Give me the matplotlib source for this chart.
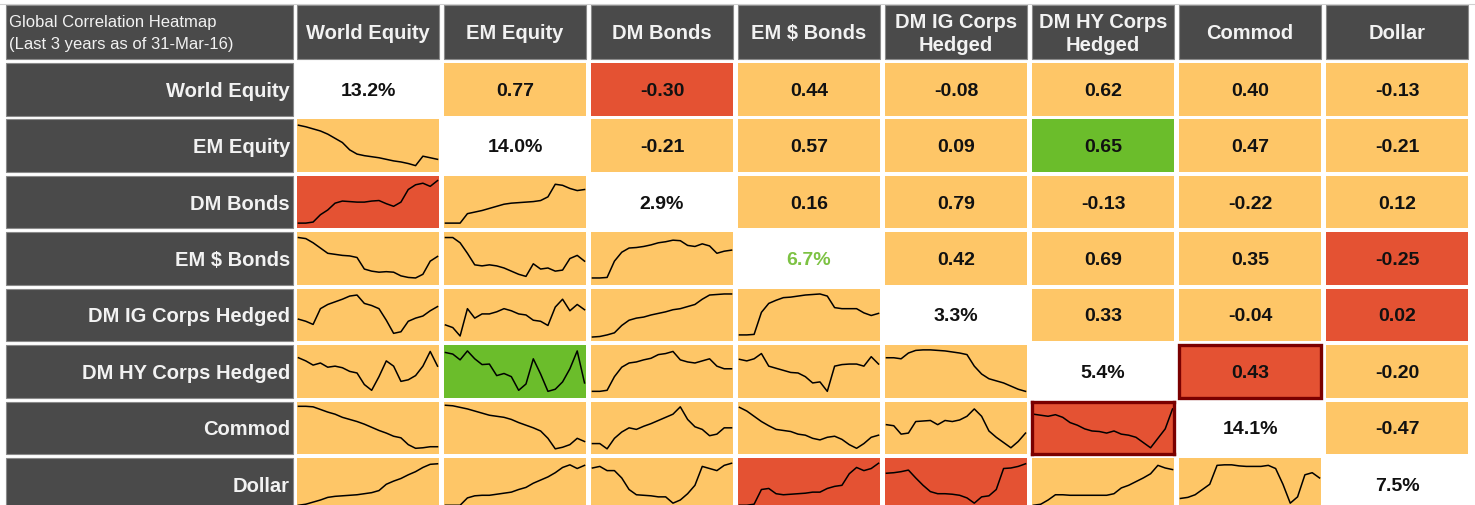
import matplotlib
matplotlib.use('Agg')
import matplotlib.pyplot as plt
from matplotlib.patches import Rectangle

plt.rcParams['font.family'] = ['Liberation Sans Narrow', 'Liberation Sans', 'DejaVu Sans']

title = 'Global Correlation Heatmap\n(Last 3 years as of 31-Mar-16)'
assets = ['World Equity', 'EM Equity', 'DM Bonds', 'EM $ Bonds',
          'DM IG Corps Hedged', 'DM HY Corps Hedged', 'Commod', 'Dollar']
headers = ['World Equity', 'EM Equity', 'DM Bonds', 'EM $ Bonds',
           'DM IG Corps\nHedged', 'DM HY Corps\nHedged', 'Commod', 'Dollar']
vols = ['13.2%', '14.0%', '2.9%', '6.7%', '3.3%', '5.4%', '14.1%', '7.5%']

# correlations above the diagonal, one list per row
corr_upper = [
    [0.77, -0.30, 0.44, -0.08, 0.62, 0.40, -0.13],
    [-0.21, 0.57, 0.09, 0.65, 0.47, -0.21],
    [0.16, 0.79, -0.13, -0.22, 0.12],
    [0.42, 0.69, 0.35, -0.25],
    [0.33, -0.04, 0.02],
    [0.43, -0.20],
    [-0.47],
]
# flagged pairs (row, col) in the upper triangle, mirrored below
flags = {(0, 2): 'red', (1, 5): 'green', (3, 7): 'red', (4, 7): 'red', (5, 6): 'red'}
boxed = (5, 6)

# rolling correlation sparklines below the diagonal (0 = bottom, 100 = top)
spark = {
    (1, 0): [89, 86, 82, 78, 72, 64, 56, 42, 34, 31, 29, 27, 24, 21, 19, 16, 12, 30, 27, 24],
    (2, 0): [10, 10, 12, 26, 35, 48, 52, 51, 50, 50, 52, 53, 47, 42, 50, 74, 83, 86, 80, 91],
    (2, 1): [10, 10, 10, 28, 31, 34, 38, 42, 46, 48, 49, 50, 51, 53, 60, 84, 82, 76, 72, 74],
    (3, 0): [90, 88, 80, 70, 60, 58, 56, 55, 52, 30, 26, 24, 25, 24, 17, 14, 13, 20, 45, 54],
    (3, 1): [90, 90, 80, 60, 38, 36, 38, 36, 32, 26, 20, 16, 40, 30, 32, 26, 28, 50, 56, 45],
    (3, 2): [13, 13, 14, 45, 62, 70, 71, 73, 76, 80, 82, 85, 84, 75, 73, 78, 74, 60, 64, 66],
    (4, 0): [42, 38, 32, 62, 70, 75, 80, 86, 88, 72, 68, 62, 40, 15, 18, 38, 44, 48, 58, 66],
    (4, 1): [31, 26, 10, 62, 44, 52, 52, 56, 62, 58, 52, 50, 40, 38, 30, 65, 80, 58, 70, 60],
    (4, 2): [8, 9, 12, 16, 30, 40, 44, 46, 50, 53, 56, 60, 62, 66, 70, 80, 88, 89, 90, 90],
    (4, 3): [12, 12, 13, 55, 72, 78, 83, 84, 86, 88, 89, 90, 86, 64, 62, 62, 62, 54, 49, 53],
    (5, 0): [76, 70, 62, 66, 58, 60, 57, 50, 47, 25, 14, 40, 70, 60, 31, 34, 42, 60, 88, 60],
    (5, 1): [86, 83, 72, 89, 74, 63, 64, 42, 46, 40, 14, 26, 74, 45, 12, 16, 30, 55, 89, 28],
    (5, 2): [12, 12, 14, 40, 58, 66, 68, 72, 75, 82, 84, 88, 72, 68, 66, 70, 74, 60, 55, 55],
    (5, 3): [73, 70, 74, 84, 60, 56, 52, 48, 47, 40, 28, 30, 12, 60, 63, 64, 64, 60, 78, 64],
    (5, 4): [76, 76, 74, 85, 90, 91, 91, 90, 89, 87, 85, 82, 60, 45, 36, 32, 28, 22, 16, 12],
    (6, 0): [91, 91, 90, 85, 80, 76, 70, 66, 62, 57, 51, 45, 40, 34, 31, 18, 11, 12, 14, 14],
    (6, 1): [93, 92, 89, 86, 82, 78, 74, 72, 70, 66, 60, 55, 50, 44, 30, 10, 13, 18, 30, 24],
    (6, 2): [20, 20, 10, 30, 42, 50, 47, 53, 58, 64, 70, 76, 90, 66, 52, 47, 35, 38, 50, 50],
    (6, 3): [89, 82, 72, 62, 54, 47, 45, 43, 38, 36, 30, 27, 32, 34, 28, 18, 11, 20, 32, 36],
    (6, 4): [56, 54, 38, 40, 62, 63, 64, 56, 64, 62, 65, 72, 86, 72, 44, 32, 22, 12, 24, 40],
    (6, 5): [76, 74, 72, 75, 70, 60, 55, 48, 44, 43, 40, 44, 38, 36, 32, 22, 12, 30, 48, 86],
    (7, 0): [10, 12, 16, 20, 25, 27, 28, 29, 30, 32, 34, 38, 50, 56, 61, 68, 74, 82, 88, 89],
    (7, 1): [10, 10, 10, 24, 28, 29, 29, 31, 33, 35, 40, 44, 52, 58, 64, 72, 82, 87, 80, 86],
    (7, 2): [81, 84, 76, 76, 62, 40, 30, 29, 28, 26, 26, 14, 20, 32, 48, 84, 80, 76, 86, 90],
    (7, 3): [10, 10, 12, 40, 42, 32, 30, 31, 32, 33, 35, 35, 42, 46, 48, 70, 82, 76, 80, 90],
    (7, 4): [71, 72, 74, 77, 62, 48, 36, 32, 32, 31, 29, 24, 14, 26, 28, 40, 80, 81, 84, 89],
    (7, 5): [10, 12, 20, 30, 30, 29, 29, 29, 29, 29, 29, 32, 43, 48, 55, 62, 70, 86, 81, 78],
    (7, 6): [23, 25, 30, 40, 50, 86, 87, 87, 85, 84, 84, 84, 86, 80, 50, 14, 26, 68, 72, 62],
}

colors = {'orange': '#FEC667', 'red': '#E45233', 'green': '#6BBD2B'}
dark = '#4A4A4A'
light_text = '#F2F2F2'

W, H = 1475, 506
fig = plt.figure(figsize=(W / 100, H / 100), dpi=100)
base = fig.add_axes([0, 0, 1, 1])
base.set_xlim(0, W)
base.set_ylim(H, 0)
base.axis('off')

col_x = [297 + 147 * j for j in range(8)]
cw = 142
row_y = [64 + 56.43 * i for i in range(8)]
rh = 52.5
head_y, head_h = 6, 53.5
label_x, label_w = 6, 287

# top grid line of the sheet
base.plot([0, W], [4.5, 4.5], color='#D0D0D0', lw=0.8)

# title cell and column headers
base.add_patch(Rectangle((label_x, head_y), label_w, head_h, facecolor=dark,
                         edgecolor='#8A8A8A', lw=0.8))
base.text(label_x + 3, head_y + head_h / 2 + 1, title, color=light_text,
          fontsize=12, ha='left', va='center', linespacing=1.55)
for j, h in enumerate(headers):
    base.add_patch(Rectangle((col_x[j], head_y), cw, head_h, facecolor=dark,
                             edgecolor='#8A8A8A', lw=0.8))
    base.text(col_x[j] + cw / 2, head_y + head_h / 2 + 1, h, color=light_text,
              fontsize=14.5, fontweight='bold', ha='center', va='center',
              linespacing=1.25)

for i, name in enumerate(assets):
    y = row_y[i]
    base.add_patch(Rectangle((label_x, y), label_w, rh, facecolor=dark,
                             edgecolor='#8A8A8A', lw=0.8))
    base.text(label_x + label_w - 3, y + rh / 2 + 1, name, color=light_text,
              fontsize=14.5, fontweight='bold', ha='right', va='center')
    for j in range(8):
        x = col_x[j]
        if i == j:
            tc = '#7DC243' if name == 'EM $ Bonds' else '#111111'
            base.text(x + cw / 2, y + rh / 2 + 1, vols[i], color=tc,
                      fontsize=14, fontweight='bold', ha='center', va='center')
        elif j > i:
            v = corr_upper[i][j - i - 1]
            fc = colors[flags.get((i, j), 'orange')]
            base.add_patch(Rectangle((x, y), cw, rh, facecolor=fc, edgecolor='none'))
            base.text(x + cw / 2, y + rh / 2 + 1, f'{v:.2f}', color='#111111',
                      fontsize=14, fontweight='bold', ha='center', va='center')
            if (i, j) == boxed:
                base.add_patch(Rectangle((x, y), cw, rh, facecolor='none',
                                         edgecolor='#7A0000', lw=2.4, zorder=5))
        else:
            fc = colors[flags.get((j, i), 'orange')]
            ax = fig.add_axes([x / W, 1 - (y + rh) / H, cw / W, rh / H])
            ax.set_facecolor(fc)
            vals = spark[(i, j)]
            ax.plot(range(len(vals)), vals, color='black', lw=1.1)
            ax.set_xlim(-0.2, len(vals) - 0.8)
            ax.set_ylim(0, 100)
            ax.set_xticks([])
            ax.set_yticks([])
            for s in ax.spines.values():
                if (j, i) == boxed:
                    s.set_color('#7A0000')
                    s.set_linewidth(2.4)
                else:
                    s.set_visible(False)

fig.savefig('out.png', dpi=100)
